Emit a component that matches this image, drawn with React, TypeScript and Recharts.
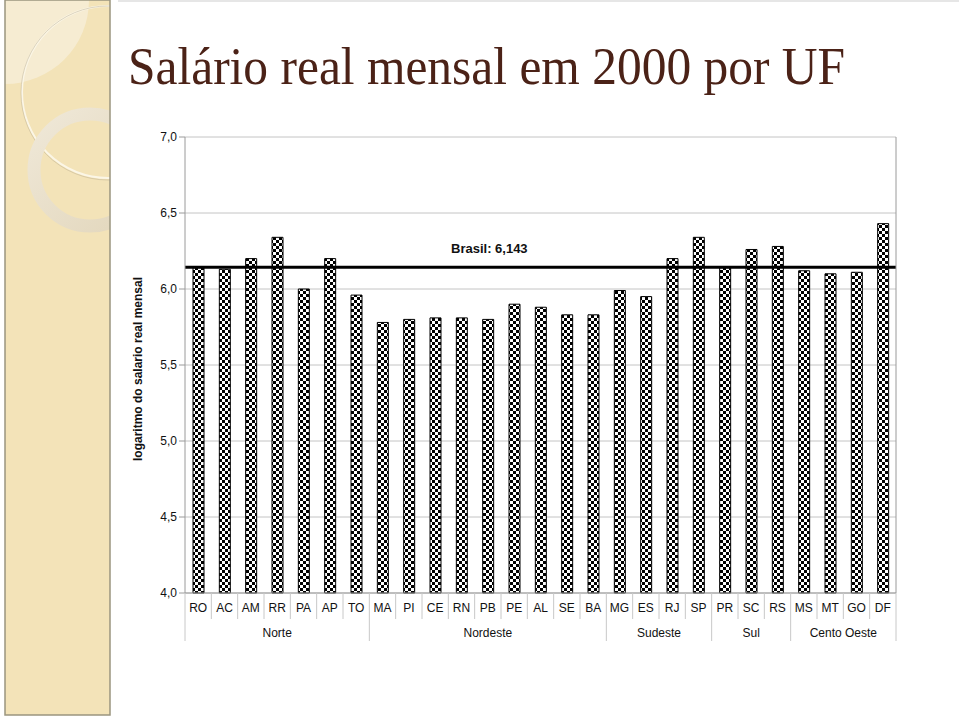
import React from 'react';
import {
  BarChart,
  Bar,
  XAxis,
  YAxis,
  CartesianGrid,
  ReferenceLine,
} from 'recharts';

// unidades da federação, na ordem do gráfico
const ufs = [
  'RO', 'AC', 'AM', 'RR', 'PA', 'AP', 'TO',
  'MA', 'PI', 'CE', 'RN', 'PB', 'PE', 'AL', 'SE', 'BA',
  'MG', 'ES', 'RJ', 'SP',
  'PR', 'SC', 'RS',
  'MS', 'MT', 'GO', 'DF',
];

// logaritmo do salário real mensal (2000)
const logSalario = [
  6.14, 6.13, 6.2, 6.34, 6.0, 6.2, 5.96,
  5.78, 5.8, 5.81, 5.81, 5.8, 5.9, 5.88, 5.83, 5.83,
  5.99, 5.95, 6.2, 6.34,
  6.14, 6.26, 6.28,
  6.12, 6.1, 6.11, 6.43,
];

const regioes = [
  { nome: 'Norte', inicio: 0, qtd: 7 },
  { nome: 'Nordeste', inicio: 7, qtd: 9 },
  { nome: 'Sudeste', inicio: 16, qtd: 4 },
  { nome: 'Sul', inicio: 20, qtd: 3 },
  { nome: 'Cento Oeste', inicio: 23, qtd: 4 },
];

const yTicks = [4, 4.5, 5, 5.5, 6, 6.5, 7];
const mediaBrasil = 6.143;

const data = ufs.map((uf, i) => ({ uf, valor: logSalario[i] }));

const W = 959;
const H = 718;
const X_AXIS_H = 60;
const Y_AXIS_W = 45;
const margin = { top: 137, right: 62, bottom: 125 - X_AXIS_H, left: 185 - Y_AXIS_W };
const plotW = W - 185 - 63;
const step = plotW / ufs.length;

const FONT = '"Liberation Sans", Arial, sans-serif';
const fmt = (v: number) => v.toFixed(1).replace('.', ',');

const UfTick = (props: any) => {
  const { x, y, payload } = props;
  const i = payload.index;
  const regiao = regioes.find((r) => r.inicio === i);
  const ultimo = i === ufs.length - 1;
  return (
    <g>
      <line
        x1={x - step / 2}
        x2={x - step / 2}
        y1={y}
        y2={regiao ? y + 48 : y + 26}
        stroke="#c8c8c8"
      />
      {ultimo && (
        <line x1={x + step / 2} x2={x + step / 2} y1={y} y2={y + 48} stroke="#c8c8c8" />
      )}
      <text x={x} y={y + 19} textAnchor="middle" fontSize={12} fontFamily={FONT} fill="#111">
        {payload.value}
      </text>
      {regiao && (
        <text
          x={x + ((regiao.qtd - 1) / 2) * step}
          y={y + 44}
          textAnchor="middle"
          fontSize={12}
          fontFamily={FONT}
          fill="#111"
        >
          {regiao.nome}
        </text>
      )}
    </g>
  );
};

const BrasilLabel = (props: any) => {
  const { viewBox } = props;
  return (
    <text
      x={viewBox.x + viewBox.width * 0.428}
      y={viewBox.y - 14}
      textAnchor="middle"
      fontSize={13}
      fontWeight="bold"
      fontFamily={FONT}
      fill="#111"
    >
      Brasil: 6,143
    </text>
  );
};

const YLabel = (props: any) => {
  const { viewBox } = props;
  const cx = viewBox.x - 2;
  const cy = viewBox.y + viewBox.height / 2 + 4;
  return (
    <text
      x={cx}
      y={cy}
      transform={`rotate(-90, ${cx}, ${cy})`}
      textAnchor="middle"
      dominantBaseline="central"
      fontSize={12}
      fontWeight="bold"
      fontFamily={FONT}
      fill="#111"
    >
      logaritmo do salario real mensal
    </text>
  );
};

const Painel = () => (
  <svg width={120} height={H} style={{ position: 'absolute', left: 0, top: 0 }}>
    <defs>
      <clipPath id="painelClip">
        <rect x={5} y={0} width={105} height={715} />
      </clipPath>
      <linearGradient id="anel" x1="0" y1="0" x2="1" y2="1">
        <stop offset="0" stopColor="#efe8d8" />
        <stop offset="1" stopColor="#e2d6bb" />
      </linearGradient>
    </defs>
    <rect x={5} y={0} width={105} height={715} fill="#f3e3b8" />
    <g clipPath="url(#painelClip)">
      <circle cx={5} cy={0} r={84} fill="#f6ecd2" />
      <circle cx={108} cy={92} r={86} fill="none" stroke="#fbf6e6" strokeWidth={2} />
      <circle cx={108} cy={93} r={87} fill="none" stroke="#b9ad8f" strokeWidth={0.8} opacity={0.6} />
      <circle cx={90} cy={170} r={56} fill="none" stroke="url(#anel)" strokeWidth={13} />
    </g>
    <rect x={5} y={0} width={105} height={715} fill="none" stroke="#9a957f" strokeWidth={1.5} />
  </svg>
);

export default function App() {
  return (
    <div
      style={{
        position: 'absolute',
        left: 0,
        top: 0,
        width: W,
        height: H,
        background: '#fff',
        overflow: 'hidden',
      }}
    >
      <Painel />
      <div style={{ position: 'absolute', left: 118, top: 0, width: W - 118, height: 2, background: '#e6e6e6' }} />
      <svg width={W} height={110} style={{ position: 'absolute', left: 0, top: 0 }}>
        <text
          x={128}
          y={84}
          fontSize={52}
          fontFamily='"Liberation Serif", "Times New Roman", serif'
          fill="#4b2217"
          textLength={717}
          lengthAdjust="spacingAndGlyphs"
        >
          Salário real mensal em 2000 por UF
        </text>
      </svg>
      <div style={{ position: 'absolute', left: 0, top: 0 }}>
        <BarChart width={W} height={H} data={data} margin={margin} barCategoryGap={0}>
          <defs>
            <pattern id="xadrez" width={6} height={6} patternUnits="userSpaceOnUse">
              <rect width={6} height={6} fill="#fff" />
              <rect width={3} height={3} fill="#000" />
              <rect x={3} y={3} width={3} height={3} fill="#000" />
            </pattern>
          </defs>
          <CartesianGrid vertical={false} stroke="#c4c4c4" />
          <XAxis
            dataKey="uf"
            interval={0}
            tickLine={false}
            tickSize={0}
            tickMargin={0}
            height={X_AXIS_H}
            axisLine={{ stroke: '#9a9a9a' }}
            tick={<UfTick />}
          />
          <YAxis
            domain={[4, 7]}
            ticks={yTicks}
            interval={0}
            width={Y_AXIS_W}
            tickFormatter={fmt}
            tick={{ fontSize: 12, fontFamily: FONT, fill: '#111' }}
            tickLine={{ stroke: '#9a9a9a' }}
            axisLine={{ stroke: '#9a9a9a' }}
            label={<YLabel />}
          />
          <YAxis
            yAxisId="borda"
            orientation="right"
            domain={[4, 7]}
            width={1}
            tick={false}
            tickLine={false}
            axisLine={{ stroke: '#9a9a9a' }}
          />
          <Bar
            dataKey="valor"
            barSize={11}
            fill="url(#xadrez)"
            stroke="#000"
            strokeWidth={1}
            isAnimationActive={false}
          />
          <ReferenceLine
            y={mediaBrasil}
            stroke="#000"
            strokeWidth={3}
            label={<BrasilLabel />}
          />
        </BarChart>
      </div>
    </div>
  );
}
